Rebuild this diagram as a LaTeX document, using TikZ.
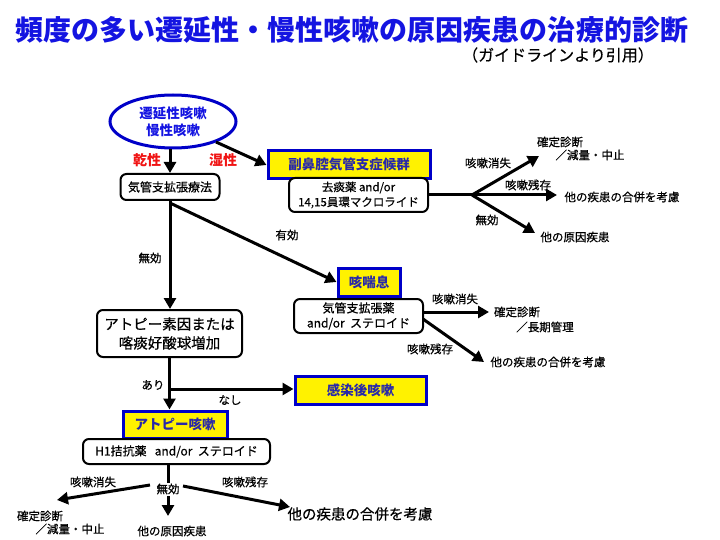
\documentclass[tikz,border=0pt]{standalone}
\usepackage{fontspec}
\setmainfont{Noto Sans CJK JP}
\newfontfamily\medfont{Noto Sans CJK JP}[FakeBold=0.5]
\usetikzlibrary{shapes.geometric,arrows.meta}
\definecolor{tblue}{RGB}{20,20,225}
\definecolor{bblue}{RGB}{0,0,200}
\definecolor{ytext}{RGB}{40,40,170}
\definecolor{tred}{RGB}{240,20,20}
\begin{document}
\begin{tikzpicture}[x=1pt,y=-1pt,
  conn/.style={line width=3pt,-{Triangle[length=11pt,width=12pt]}},
  plain/.style={line width=3pt},
  rbox/.style={draw,rounded corners=6pt,line width=2pt,fill=white,align=center,inner sep=0pt,font=\medfont\fontsize{12}{15}\selectfont},
  ybox/.style={draw=bblue,fill=yellow,line width=3pt,inner sep=0pt,text=ytext,font=\fontsize{13.5}{16}\selectfont\bfseries},
  lbl/.style={inner sep=0pt,font=\medfont\fontsize{11.5}{14}\selectfont},
  redlbl/.style={inner sep=0pt,text=tred,font=\fontsize{14}{16}\selectfont\bfseries}]
\useasboundingbox (0,0) rectangle (720,540);
% title
\node[inner sep=0pt,text=tblue,font=\fontsize{28}{30}\selectfont\bfseries] (title) at (352,30) {頻度の多い遷延性・慢性咳嗽の原因疾患の治療的診断};
\node[inner sep=0pt,font=\medfont\fontsize{16}{18}\selectfont] (sub) at (558,55) {（ガイドラインより引用）};
% top
\node[ellipse,draw=bblue,line width=3pt,minimum width=126pt,minimum height=53pt,inner sep=0pt,align=center,text=tblue,font=\fontsize{13.5}{17}\selectfont\bfseries] (ell) at (173,121.5) {遷延性咳嗽\\慢性咳嗽};
\node[rbox,minimum width=99pt,minimum height=26pt] (b1) at (170,187) {気管支拡張療法};
\node[ybox,minimum width=162pt,minimum height=28pt] (sb) at (349,164.5) {副鼻腔気管支症候群};
\node[rbox,minimum width=139pt,minimum height=34pt,font=\medfont\fontsize{11.5}{15}\selectfont] (b2) at (358.5,195) {去痰薬 and/or\\14,15員環マクロライド};
\node[redlbl] (dry) at (147,160) {乾性};
\node[redlbl] (wet) at (223,160) {湿性};
\draw[conn] (ell.south -| b1.north) -- (b1.north);
\coordinate (e1) at (216,142);
\draw[conn] (e1) -- (sb.west |- 0,165);
% right branch top
\coordinate (s1) at (472,195);
\coordinate (t1) at (539,156);
\coordinate (t2) at (557,195);
\coordinate (t3) at (535,233);
\draw[plain] (b2.east |- s1) -- (s1);
\draw[conn] (s1) -- (t1);
\draw[conn] (s1) -- (t2);
\draw[conn] (s1) -- (t3);
\node[lbl] (l1) at (488,163) {咳嗽消失};
\node[lbl] (l2) at (528,185) {咳嗽残存};
\node[lbl] (l3) at (487,220) {無効};
\node[lbl] (r1) at (560,142) {確定診断};
\node[lbl] (r1b) at (590,155) {／減量・中止};
\node[lbl] (r2) at (622,197) {他の疾患の合併を考慮};
\node[lbl] (r3) at (575,237) {他の原因疾患};
% middle
\node[ybox,minimum width=62pt,minimum height=28pt] (ce) at (369,282) {咳喘息};
\node[rbox,minimum width=129pt,minimum height=34pt] (b3) at (358.5,316) {気管支拡張薬\\and/or\ \ ステロイド};
\node[rbox,minimum width=145pt,minimum height=47pt,font=\medfont\fontsize{14.5}{19}\selectfont] (ap) at (169.5,333.5) {アトピー素因または\\喀痰好酸球増加};
\coordinate (j1) at (170,203);
\draw[conn] (b1.south) -- (b1.south |- ap.north);
\draw[conn] (j1) -- (ce.west);
\node[lbl] (l4) at (150,258) {無効};
\node[lbl] (l5) at (287,235) {有効};
\coordinate (t4) at (489,312);
\coordinate (t5) at (484,362);
\draw[conn] (b3.east |- t4) -- (t4);
\coordinate (o5) at (423,319);
\draw[conn] (o5) -- (t5);
\node[lbl] (l6) at (455,299) {咳嗽消失};
\node[lbl] (l7) at (430,349) {咳嗽残存};
\node[lbl] (r4) at (517,312) {確定診断};
\node[lbl] (r4b) at (545,327) {／長期管理};
\node[lbl] (r5) at (548,362) {他の疾患の合併を考慮};
% lower
\node[ybox,minimum width=131pt,minimum height=28pt] (kb) at (360.5,390) {感染後咳嗽};
\node[ybox,minimum width=104pt,minimum height=27pt] (ac) at (175,424.5) {アトピー咳嗽};
\node[rbox,minimum width=187pt,minimum height=25pt] (h1) at (176.5,451.5) {H1拮抗薬\ \ \ and/or\ \ ステロイド};
\coordinate (j2) at (169.5,389);
\draw[conn] (ap.south) -- (ap.south |- ac.north);
\draw[conn] (j2) -- (kb.west |- j2);
\node[lbl] (l8) at (153,385) {あり};
\node[lbl] (l9) at (230,400) {なし};
% bottom
\node[lbl] (mk) at (168,489) {無効};
\draw[plain] (h1.south -| mk) -- (mk.north);
\coordinate (o6) at (150,485);
\coordinate (t6) at (57,500);
\coordinate (o7) at (168,496);
\coordinate (t7) at (168,516);
\coordinate (o8) at (183,486);
\coordinate (t8) at (290,507);
\draw[conn] (o6) -- (t6);
\draw[conn] (o7) -- (t7);
\draw[conn] (o8) -- (t8);
\node[lbl] (l10) at (93,482) {咳嗽消失};
\node[lbl] (l11) at (245,482) {咳嗽残存};
\node[lbl] (r6) at (40,516) {確定診断};
\node[lbl] (r6b) at (70,529) {／減量・中止};
\node[lbl] (r7) at (172,531) {他の原因疾患};
\node[lbl,font=\medfont\fontsize{14.5}{17}\selectfont] (r8) at (360,514) {他の疾患の合併を考慮};
\end{tikzpicture}
\end{document}
